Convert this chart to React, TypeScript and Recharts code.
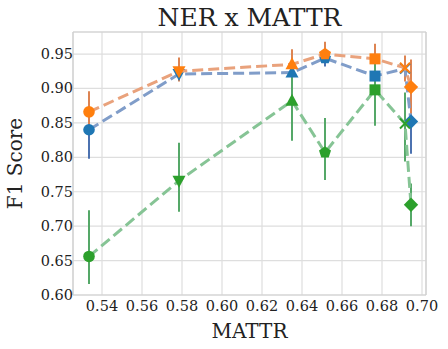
import {
  ScatterChart,
  Scatter,
  XAxis,
  YAxis,
  CartesianGrid,
  ErrorBar,
  ReferenceLine,
} from "recharts";

const MATTR = [0.5335, 0.5785, 0.635, 0.6515, 0.6765, 0.6915, 0.6945];
const MARKERS = ["circle", "triDown", "triUp", "pentagon", "square", "x", "diamond"];

const BLUE = [0.84, 0.921, 0.923, 0.944, 0.918, 0.929, 0.852];
const BLUE_LO = [0.042, 0.01, 0.01, 0.012, 0.01, 0.012, 0.047];
const BLUE_HI = [0.03, 0.01, 0.01, 0.012, 0.01, 0.01, 0.035];

const ORANGE = [0.866, 0.925, 0.935, 0.95, 0.943, 0.93, 0.902];
const ORANGE_LO = [0.025, 0.015, 0.02, 0.01, 0.02, 0.02, 0.04];
const ORANGE_HI = [0.03, 0.02, 0.022, 0.018, 0.022, 0.018, 0.04];

const GREEN = [0.656, 0.766, 0.882, 0.807, 0.898, 0.849, 0.731];
const GREEN_LO = [0.04, 0.045, 0.058, 0.04, 0.052, 0.055, 0.031];
const GREEN_HI = [0.067, 0.055, 0.045, 0.05, 0.052, 0.045, 0.031];

const X_TICKS = [0.54, 0.56, 0.58, 0.6, 0.62, 0.64, 0.66, 0.68, 0.7];
const Y_TICKS = [0.6, 0.65, 0.7, 0.75, 0.8, 0.85, 0.9, 0.95];

const X_MIN = 0.5255;
const X_MAX = 0.702;
const Y_MIN = 0.6;
const Y_MAX = 0.982;

const FONT = "'DejaVu Serif', serif";

const build = (ys: number[], lo: number[], hi: number[]) =>
  MATTR.map((x, i) => ({ x, y: ys[i], err: [lo[i], hi[i]] }));

const blueData = build(BLUE, BLUE_LO, BLUE_HI);
const orangeData = build(ORANGE, ORANGE_LO, ORANGE_HI);
const greenData = build(GREEN, GREEN_LO, GREEN_HI);

const polygon = (cx: number, cy: number, pts: number[][]) =>
  pts.map(([dx, dy]) => `${cx + dx},${cy + dy}`).join(" ");

const Marker = (props: any) => {
  const { cx, cy, fill, payload } = props;
  if (cx == null || cy == null) return <g />;
  const kind = MARKERS[MATTR.indexOf(payload?.x)];
  switch (kind) {
    case "circle":
      return <circle cx={cx} cy={cy} r={5.8} fill={fill} />;
    case "triDown":
      return <polygon points={polygon(cx, cy, [[-6.5, -5], [6.5, -5], [0, 7]])} fill={fill} />;
    case "triUp":
      return <polygon points={polygon(cx, cy, [[-6.5, 5], [6.5, 5], [0, -7]])} fill={fill} />;
    case "pentagon": {
      const pts = [0, 1, 2, 3, 4].map((k) => {
        const a = -Math.PI / 2 + (k * 2 * Math.PI) / 5;
        return [6.3 * Math.cos(a), 6.3 * Math.sin(a)];
      });
      return <polygon points={polygon(cx, cy, pts)} fill={fill} />;
    }
    case "square":
      return <rect x={cx - 5.5} y={cy - 5.5} width={11} height={11} fill={fill} />;
    case "x":
      return (
        <g stroke={fill} strokeWidth={2}>
          <line x1={cx - 5} y1={cy - 5} x2={cx + 5} y2={cy + 5} />
          <line x1={cx - 5} y1={cy + 5} x2={cx + 5} y2={cy - 5} />
        </g>
      );
    case "diamond":
      return <polygon points={polygon(cx, cy, [[0, -7.2], [7.2, 0], [0, 7.2], [-7.2, 0]])} fill={fill} />;
    default:
      return <circle cx={cx} cy={cy} r={5} fill={fill} />;
  }
};

// tick text rendered by hand so the serif font sticks
const XTick = ({ x, y, payload }: any) => (
  <text x={x} y={y + 16} textAnchor="middle" fontSize={14.5} fill="#222" fontFamily={FONT}>
    {payload.value.toFixed(2)}
  </text>
);

const YTick = ({ x, y, payload }: any) => (
  <text x={x} y={y + 5} textAnchor="end" fontSize={14.5} fill="#222" fontFamily={FONT}>
    {payload.value.toFixed(2)}
  </text>
);

const dash = { strokeWidth: 3, strokeDasharray: "11 5" };

export default function App() {
  return (
    <div
      style={{
        position: "absolute",
        left: 0,
        top: 0,
        width: 448,
        height: 349,
        background: "#fff",
        fontFamily: FONT,
      }}
    >
      <ScatterChart width={448} height={349} margin={{ top: 32, right: 22, bottom: 0, left: 0 }}>
        <CartesianGrid stroke="#dedede" strokeWidth={1.2} />
        <XAxis
          type="number"
          dataKey="x"
          domain={[X_MIN, X_MAX]}
          ticks={X_TICKS}
          height={54}
          tickLine={false}
          tickSize={0}
          tickMargin={0}
          axisLine={{ stroke: "#cfcfcf", strokeWidth: 1.2 }}
          tick={<XTick />}
          allowDataOverflow
          label={{
            value: "MATTR",
            position: "insideBottom",
            offset: 11,
            fill: "#222",
            fontSize: 20,
            fontFamily: FONT,
          }}
        />
        <YAxis
          type="number"
          dataKey="y"
          domain={[Y_MIN, Y_MAX]}
          ticks={Y_TICKS}
          width={73}
          tickLine={false}
          tickSize={0}
          tickMargin={0}
          axisLine={{ stroke: "#cfcfcf", strokeWidth: 1.2 }}
          tick={<YTick />}
          allowDataOverflow
          label={{
            value: "F1 Score",
            angle: -90,
            position: "insideLeft",
            offset: 15,
            fill: "#222",
            fontSize: 20,
            fontFamily: FONT,
            style: { textAnchor: "middle" },
          }}
        />
        <ReferenceLine y={Y_MAX} stroke="#cfcfcf" strokeWidth={1.2} />
        <ReferenceLine x={X_MAX} stroke="#cfcfcf" strokeWidth={1.2} />
        <Scatter
          data={blueData}
          fill="#1f77b4"
          line={{ stroke: "#809dc9", ...dash }}
          shape={Marker}
          isAnimationActive={false}
        >
          <ErrorBar dataKey="err" direction="y" width={0} stroke="#4c72b0" strokeWidth={2} />
        </Scatter>
        <Scatter
          data={orangeData}
          fill="#ff7f0e"
          line={{ stroke: "#e9a27c", ...dash }}
          shape={Marker}
          isAnimationActive={false}
        >
          <ErrorBar dataKey="err" direction="y" width={0} stroke="#dd8452" strokeWidth={2} />
        </Scatter>
        <Scatter
          data={greenData}
          fill="#2ca02c"
          line={{ stroke: "#86c495", ...dash }}
          shape={Marker}
          isAnimationActive={false}
        >
          <ErrorBar dataKey="err" direction="y" width={0} stroke="#55a868" strokeWidth={2} />
        </Scatter>
        <text x={249.5} y={26} textAnchor="middle" fontSize={25} fill="#222" fontFamily={FONT}>
          NER x MATTR
        </text>
      </ScatterChart>
    </div>
  );
}
